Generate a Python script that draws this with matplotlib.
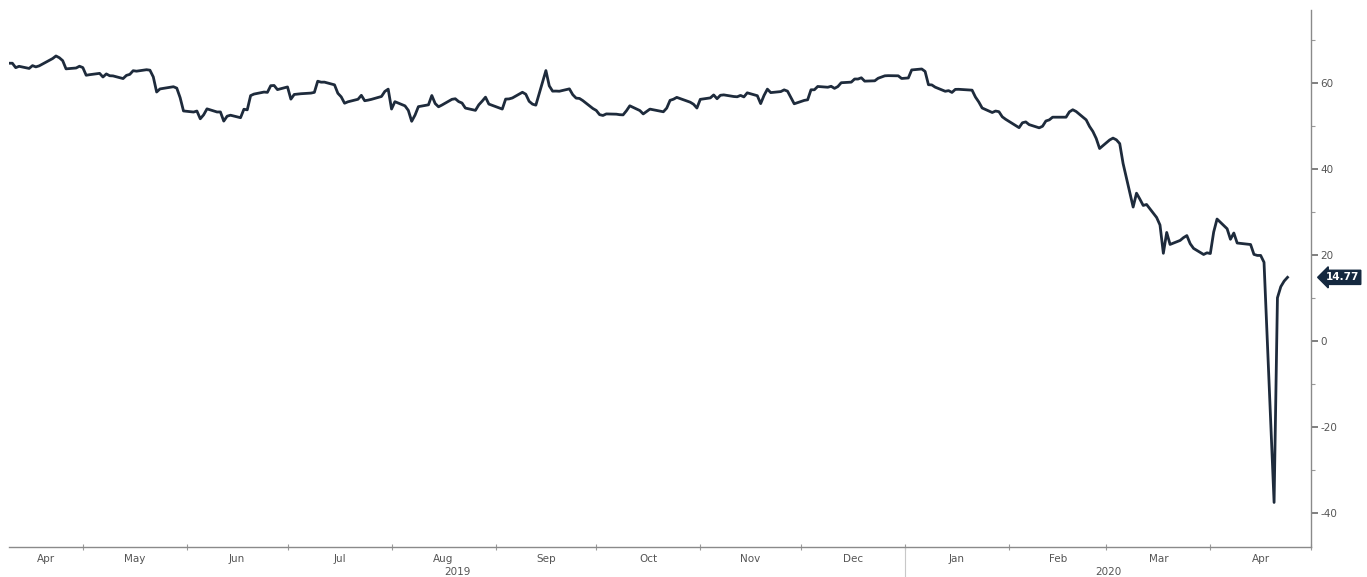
import matplotlib
matplotlib.use("Agg")
import matplotlib.pyplot as plt
import matplotlib.dates as mdates
import matplotlib.transforms as mtrans
import pandas as pd
import numpy as np

plt.rcParams['font.family'] = ['DejaVu Sans']
plt.rcParams['axes.unicode_minus'] = False

# ---- data ----
dates_2019 = [
    "04-09","04-10","04-11","04-12","04-15","04-16","04-17","04-18","04-22","04-23","04-24","04-25","04-26","04-29","04-30",
    "05-01","05-02","05-03","05-06","05-07","05-08","05-09","05-10","05-13","05-14","05-15","05-16","05-17","05-20","05-21",
    "05-22","05-23","05-24","05-28","05-29","05-30","05-31",
    "06-03","06-04","06-05","06-06","06-07","06-10","06-11","06-12","06-13","06-14","06-17","06-18","06-19","06-20","06-21",
    "06-24","06-25","06-26","06-27","06-28",
    "07-01","07-02","07-03","07-05","07-08","07-09","07-10","07-11","07-12","07-15","07-16","07-17","07-18","07-19","07-22",
    "07-23","07-24","07-25","07-26","07-29","07-30","07-31",
    "08-01","08-02","08-05","08-06","08-07","08-08","08-09","08-12","08-13","08-14","08-15","08-16","08-19","08-20","08-21",
    "08-22","08-23","08-26","08-27","08-28","08-29","08-30",
    "09-03","09-04","09-05","09-06","09-09","09-10","09-11","09-12","09-13","09-16","09-17","09-18","09-19","09-20","09-23",
    "09-24","09-25","09-26","09-27","09-30",
    "10-01","10-02","10-03","10-04","10-07","10-08","10-09","10-10","10-11","10-14","10-15","10-16","10-17","10-18","10-21",
    "10-22","10-23","10-24","10-25","10-28","10-29","10-30","10-31",
    "11-01","11-04","11-05","11-06","11-07","11-08","11-11","11-12","11-13","11-14","11-15","11-18","11-19","11-20","11-21",
    "11-22","11-25","11-26","11-27","11-29",
    "12-02","12-03","12-04","12-05","12-06","12-09","12-10","12-11","12-12","12-13","12-16","12-17","12-18","12-19","12-20",
    "12-23","12-24","12-26","12-27","12-30","12-31",
]
values_2019 = [
    64.61,64.61,63.58,63.89,63.40,64.05,63.76,64.00,65.70,66.30,65.89,65.21,63.30,63.50,63.91,
    63.60,61.81,61.94,62.25,61.40,62.12,61.70,61.66,61.04,61.78,62.02,62.87,62.76,63.10,62.99,
    61.42,57.91,58.63,59.14,58.81,56.59,53.50,
    53.25,53.48,51.68,52.59,53.99,53.26,53.27,51.14,52.28,52.51,51.93,53.90,53.76,57.07,57.43,
    57.90,57.83,59.38,59.43,58.47,
    59.09,56.25,57.34,57.51,57.66,57.83,60.43,60.20,60.21,59.58,57.62,56.78,55.30,55.63,56.22,
    57.14,55.88,56.02,56.20,56.87,58.05,58.58,
    53.95,55.66,54.69,53.63,51.09,52.54,54.50,54.93,57.10,55.23,54.47,54.87,56.21,56.34,55.68,
    55.35,54.17,53.64,54.93,55.78,56.71,55.10,
    53.94,56.26,56.30,56.52,57.85,57.40,55.75,55.09,54.85,62.90,59.34,58.11,58.13,58.09,58.64,
    57.29,56.49,56.41,55.91,54.07,
    53.62,52.64,52.45,52.81,52.75,52.63,52.59,53.55,54.70,53.59,52.81,53.36,53.93,53.78,53.31,
    54.16,55.97,56.23,56.66,55.81,55.54,55.06,54.18,
    56.20,56.54,57.23,56.35,57.15,57.24,56.86,56.80,57.12,56.77,57.72,57.05,55.21,57.11,58.58,
    57.77,58.01,58.41,58.11,55.17,
    55.96,56.10,58.43,58.43,59.20,59.02,59.24,58.76,59.18,60.07,60.21,60.94,60.93,61.22,60.44,
    60.52,61.11,61.68,61.72,61.68,61.06,
]
dates_2020 = [
    "01-02","01-03","01-06","01-07","01-08","01-09","01-10","01-13","01-14","01-15","01-16","01-17","01-21","01-22","01-23",
    "01-24","01-27","01-28","01-29","01-30","01-31",
    "02-03","02-04","02-05","02-06","02-07","02-10","02-11","02-12","02-13","02-14","02-18","02-19","02-20","02-21","02-24",
    "02-25","02-26","02-27","02-28",
    "03-02","03-03","03-04","03-05","03-06","03-09","03-10","03-11","03-12","03-13","03-16","03-17","03-18","03-19","03-20",
    "03-23","03-24","03-25","03-26","03-27","03-30","03-31",
    "04-01","04-02","04-03","04-06","04-07","04-08","04-09","04-13","04-14","04-15","04-16","04-17","04-20","04-21","04-22",
    "04-23","04-24",
]
values_2020 = [
    61.18,63.05,63.27,62.70,59.61,59.56,59.04,58.08,58.23,57.81,58.52,58.54,58.34,56.74,55.59,
    54.19,53.14,53.48,53.33,52.14,51.56,
    50.11,49.61,50.75,50.95,50.32,49.57,49.94,51.17,51.42,52.05,52.05,53.29,53.78,53.38,51.43,
    49.90,48.73,47.09,44.76,
    46.75,47.18,46.78,45.90,41.28,31.13,34.36,32.98,31.50,31.73,28.70,26.95,20.37,25.22,22.43,
    23.36,24.01,24.49,22.60,21.51,20.09,20.48,
    20.31,25.32,28.34,26.08,23.63,25.09,22.76,22.41,20.11,19.87,19.87,18.27,-37.63,10.01,12.60,
    13.90,14.77,
]
last_value_label = "14.77"
y_ticks = [-40, -20, 0, 20, 40, 60]

dates = pd.to_datetime(["2019-" + d for d in dates_2019] + ["2020-" + d for d in dates_2020])
values = np.array(values_2019 + values_2020)

# ---- figure ----
W, H, DPI = 1367, 577, 100
fig = plt.figure(figsize=(W / DPI, H / DPI), dpi=DPI)
ax = fig.add_axes([9 / W, 1 - 547 / H, (1311 - 9) / W, (547 - 10) / H])

line_color = "#1e2b3c"
ax.plot(dates, values, color=line_color, lw=2.0, solid_joinstyle="round")

x0 = pd.Timestamp("2019-04-09")
x1 = pd.Timestamp("2020-05-01")
ax.set_xlim(x0, x1)
ax.set_ylim(-48, 77)

# spines
for s in ["left", "top"]:
    ax.spines[s].set_visible(False)
for s in ["right", "bottom"]:
    ax.spines[s].set_color("#8a8a8a")
    ax.spines[s].set_linewidth(1.0)

# y axis on right
ax.yaxis.tick_right()
ax.set_yticks(y_ticks)
ax.set_yticklabels([str(v) for v in y_ticks])
ax.yaxis.set_minor_locator(matplotlib.ticker.MultipleLocator(10))
ax.tick_params(axis="y", which="major", length=5, width=1.2, color="#6a6a6a",
               labelsize=7.5, labelcolor="#555555", pad=2, direction="out")
ax.tick_params(axis="y", which="minor", length=3, width=0.8, color="#9a9a9a", direction="out")

# x axis: month boundaries as ticks, labels centred in each month
month_starts = pd.date_range("2019-05-01", "2020-05-01", freq="MS")
ax.set_xticks(month_starts)
ax.set_xticklabels([""] * len(month_starts))
ax.tick_params(axis="x", which="major", length=4, width=0.8, color="#9a9a9a", direction="inout")

bounds = [x0] + list(month_starts[month_starts < x1]) + [x1]
centers, labels = [], []
for a, b in zip(bounds[:-1], bounds[1:]):
    centers.append(a + (b - a) / 2)
    labels.append(a.strftime("%b"))
ax.set_xticks(centers, minor=True)
ax.set_xticklabels(labels, minor=True)
ax.tick_params(axis="x", which="minor", length=0, labelsize=7.5, labelcolor="#555555", pad=5)

# year labels and separator
trans = mtrans.blended_transform_factory(ax.transData, ax.transAxes)
ysep = pd.Timestamp("2020-01-01")
ax.text(x0 + (ysep - x0) / 2, -0.046, "2019", transform=trans, ha="center", va="center",
        fontsize=7.5, color="#555555")
ax.text(ysep + (x1 - ysep) / 2, -0.046, "2020", transform=trans, ha="center", va="center",
        fontsize=7.5, color="#555555")
ax.plot([ysep, ysep], [0, -0.06], transform=trans, color="#c8c8c8", lw=0.8, clip_on=False)

# last value tag
tagtrans = mtrans.blended_transform_factory(ax.transAxes, ax.transData)
ax.text(1.011, values[-1], last_value_label, transform=tagtrans, ha="left", va="center",
        fontsize=7.5, color="white", fontweight="bold",
        bbox=dict(boxstyle="larrow,pad=0.2", fc="#14283f", ec="#14283f"))

fig.savefig("out.png", dpi=DPI)
